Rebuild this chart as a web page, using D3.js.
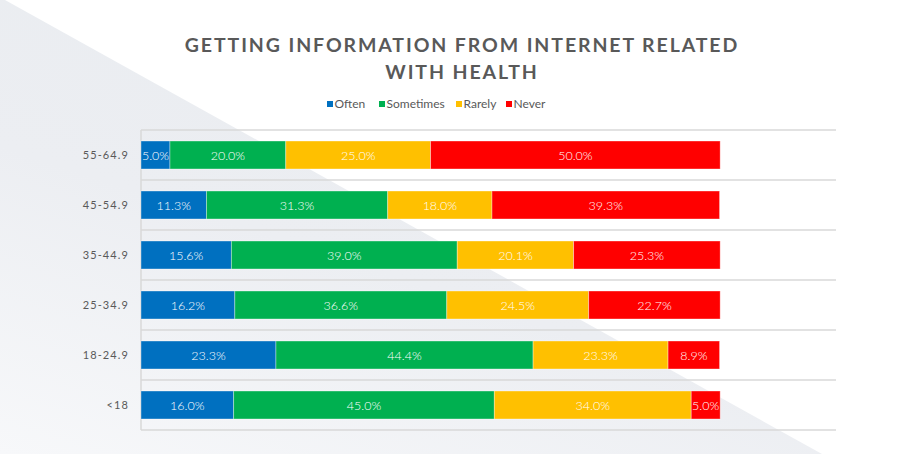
<!DOCTYPE html>
<html><head><meta charset="utf-8">
<script src="https://cdn.jsdelivr.net/npm/d3@7/dist/d3.min.js"></script>
<style>body{margin:0;background:#fff}svg{display:block}</style>
</head><body>
<svg id="c" width="901" height="454"></svg>
<script>
const categories = ["55-64.9","45-54.9","35-44.9","25-34.9","18-24.9","<18"];
const seriesNames = ["Often","Sometimes","Rarely","Never"];
const often     = [5.0, 11.3, 15.6, 16.2, 23.3, 16.0];
const sometimes = [20.0, 31.3, 39.0, 36.6, 44.4, 45.0];
const rarely    = [25.0, 18.0, 20.1, 24.5, 23.3, 34.0];
const never     = [50.0, 39.3, 25.3, 22.7, 8.9, 5.0];
const colors = ["#0070c0","#00b050","#ffc000","#ff0000"];
const titleLines = ["GETTING INFORMATION FROM INTERNET RELATED","WITH HEALTH"];

const svg = d3.select("#c");
const W = 901, H = 454;
const defs = svg.append("defs");
const g = defs.append("linearGradient").attr("id","bg").attr("x1","0").attr("y1","1").attr("x2","0.6").attr("y2","0");
g.append("stop").attr("offset","0").attr("stop-color","#f7f8fa");
g.append("stop").attr("offset","0.5").attr("stop-color","#eceef2");
g.append("stop").attr("offset","1").attr("stop-color","#e9ecf0");
svg.append("path").attr("d",`M0,0 L5,0 L822,${H} L0,${H} Z`).attr("fill","url(#bg)");

const font = "Lato, 'Open Sans', sans-serif";
const x = d3.scaleLinear().domain([0,120]).range([141,836]);
const y = d3.scaleBand().domain(categories).range([130,430]).paddingInner(0.44).paddingOuter(0.22);

// gridlines
const bounds = d3.range(categories.length+1).map(i => 130 + i*(300/categories.length));
svg.append("g").selectAll("line").data(bounds).join("line")
  .attr("x1",141).attr("x2",836).attr("y1",d=>d).attr("y2",d=>d)
  .attr("stroke","#d9d9d9").attr("stroke-width",1.5);
svg.append("line").attr("x1",141).attr("x2",141).attr("y1",130).attr("y2",430)
  .attr("stroke","#d9d9d9").attr("stroke-width",1.5);

const series = [often,sometimes,rarely,never];
const rows = categories.map((c,i)=>{
  let acc=0;
  return series.map((s,k)=>{const o={cat:c,k,v:s[i],x0:acc,x1:acc+s[i]};acc+=s[i];return o;});
});
const bh = 28;
const bars = svg.append("g");
rows.forEach(r=>{
  r.forEach(d=>{
    const yc = y(d.cat)+y.bandwidth()/2;
    bars.append("rect").attr("x",x(d.x0)).attr("width",x(d.x1)-x(d.x0))
      .attr("y",yc-bh/2).attr("height",bh).attr("fill",colors[d.k])
      .attr("stroke","rgba(255,255,255,0.45)").attr("stroke-width",0.8);
    bars.append("text").attr("x",(x(d.x0)+x(d.x1))/2).attr("y",yc+4.5)
      .attr("text-anchor","middle").attr("fill","#fff").attr("font-family",font)
      .attr("font-weight",300).attr("font-size",12.5).text(d.v.toFixed(1)+"%");
  });
});

// category axis
const yAxis = d3.axisLeft(y).tickSize(0).tickPadding(12);
const ga = svg.append("g").attr("transform","translate(141,0)").call(yAxis);
ga.select(".domain").remove();
ga.selectAll("text").attr("font-family",font).attr("font-size",11).attr("fill","#595959")
  .attr("letter-spacing","1.1px");

// title
svg.append("g").selectAll("text").data(titleLines).join("text")
  .attr("x",462).attr("y",(d,i)=>52+i*27).attr("text-anchor","middle")
  .attr("font-family",font).attr("font-weight","bold").attr("font-size",19.5)
  .attr("letter-spacing","1.9px").attr("fill","#595959").text(d=>d);

// legend
const legX = [327,379,456,506];
const leg = svg.append("g");
seriesNames.forEach((n,i)=>{
  leg.append("rect").attr("x",legX[i]).attr("y",101).attr("width",6).attr("height",6).attr("fill",colors[i]);
  leg.append("text").attr("x",legX[i]+7.5).attr("y",108).attr("font-family",font).attr("font-size",12)
    .attr("fill","#595959").text(n);
});
</script>
</body></html>
